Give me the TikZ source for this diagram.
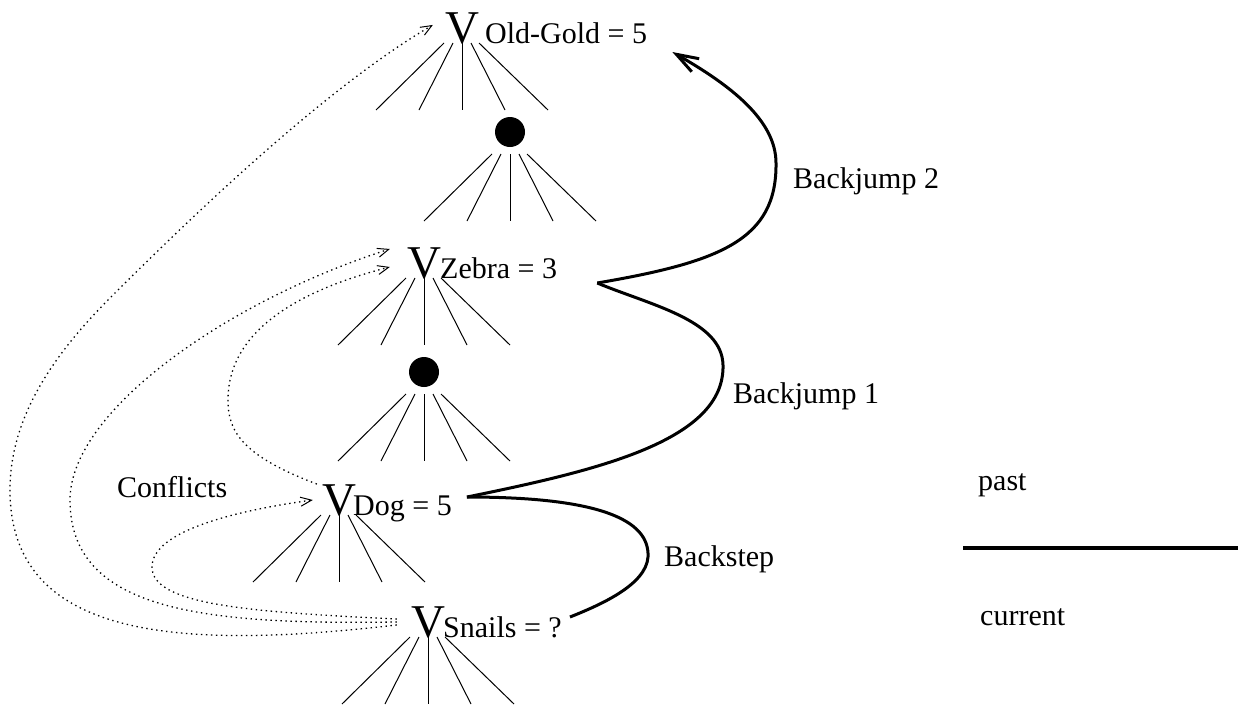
\documentclass[tikz,border=0pt]{standalone}
\usepackage{fontspec}
\setmainfont{Liberation Serif}
\usetikzlibrary{arrows.meta}

% five branches hanging below a point
\newcommand\fanout[1]{%
  \foreach \a/\b in {-18/-86,-9/-43,0/0,9/43,17/86}
    \draw[branch] ([xshift=\a pt]#1) -- ([xshift=\b pt,yshift=-67pt]#1);}

\begin{document}
\begin{tikzpicture}[x=1pt,y=-1pt,
  bigv/.style={inner sep=0pt,anchor=base,font=\fontsize{47}{47}\selectfont},
  lbl/.style={inner sep=0pt,anchor=base west,font=\fontsize{30}{30}\selectfont},
  branch/.style={line width=1pt},
  decided/.style={circle,fill=black,inner sep=0pt,minimum size=30pt},
  jump/.style={line width=3pt},
  conflict/.style={line width=1.3pt,dash pattern=on 1.4pt off 3.6pt,
    -{Straight Barb[length=11pt,width=9pt,line width=1pt]}},
]
\useasboundingbox (0,0) rectangle (1238,705);

% variables and their values
\node[bigv] (vOG) at (462,43) {V};
\node[lbl]  (lOG) at (485,43) {Old-Gold = 5};
\node[bigv] (vZ)  at (424,278) {V};
\node[lbl]  (lZ)  at (440,278) {Zebra = 3};
\node[bigv] (vD)  at (339,515) {V};
\node[lbl]  (lD)  at (353,515) {Dog = 5};
\node[bigv] (vS)  at (428,637) {V};
\node[lbl]  (lS)  at (443,637) {Snails = ?};

% intermediate decisions
\node[decided] (d1) at (510,132) {};
\node[decided] (d2) at (424,372) {};
\coordinate (f1) at ([yshift=-22pt]d1.center);
\coordinate (f2) at ([yshift=-22pt]d2.center);

% branches of the search tree
\fanout{vOG.base}
\fanout{vZ.base}
\fanout{vD.base}
\fanout{vS.base}
\fanout{f1}
\fanout{f2}

% attachment points of the jumps
\coordinate (jOG) at ([shift={(25,9)}]lOG.base east);
\coordinate (jZ)  at ([shift={(40,5)}]lZ.base east);
\coordinate (jD)  at ([shift={(15,-18)}]lD.base east);
\coordinate (jS)  at ([shift={(8,-20)}]lS.base east);

% backstep and backjumps
\draw[jump] (jS) .. controls (600,605) and (646,585) .. (648,557)
  .. controls (650,520) and (600,497) .. (jD);
\draw[jump] (jD) .. controls (600,470) and (725,440) .. (723,365)
  .. controls (722,320) and (650,305) .. (jZ);
\draw[jump,-{Straight Barb[length=22pt,width=15pt]}] (jZ)
  .. controls (720,262) and (777,240) .. (776,163)
  .. controls (776,120) and (730,85) .. (jOG);

\node[lbl] (tB2) at (793,188) {Backjump 2};
\node[lbl] (tB1) at (733,403) {Backjump 1};
\node[lbl] (tBs) at (664,566) {Backstep};

% conflict links
\draw[conflict] ([shift={(-14,3)}]vS.west) .. controls (180,650) and (10,640) .. (10,490)
  .. controls (10,420) and (50,358) .. (110,298)
  .. controls (200,208) and (330,85) .. ([shift={(-12,-3)}]vOG.west);
\draw[conflict] ([shift={(-14,0)}]vS.west) .. controls (200,625) and (70,610) .. (70,500)
  .. controls (70,410) and (230,300) .. ([shift={(-17,-14)}]vZ.west);
\draw[conflict] ([xshift=-5pt]vD.north west) .. controls (240,455) and (228,430) .. (228,400)
  .. controls (228,330) and (300,290) .. ([shift={(-17,4)}]vZ.west);
\draw[conflict] ([shift={(-14,-3)}]vS.west) .. controls (250,612) and (152,605) .. (152,567)
  .. controls (152,530) and (240,510) .. ([xshift=-9pt]vD.west);

\node[lbl] (tC) at (117,497) {Conflicts};

% legend
\node[lbl] (tPast) at (978,490) {past};
\coordinate (legA) at (963,548);
\coordinate (legB) at (1238,548);
\draw[line width=4pt] (legA) -- (legB);
\node[lbl] (tCur) at (980,625) {current};
\end{tikzpicture}
\end{document}
